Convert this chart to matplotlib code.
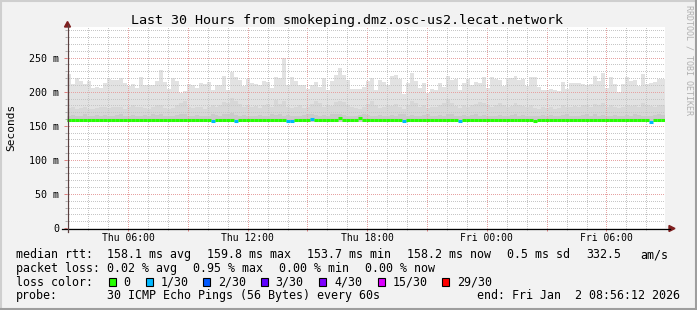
import matplotlib
matplotlib.use("Agg")
import matplotlib.pyplot as plt
from matplotlib.lines import Line2D
from matplotlib.patches import Polygon, Rectangle
from matplotlib.ticker import MultipleLocator, FixedLocator
import numpy as np

W, H = 697, 310
MONO = "DejaVu Sans Mono"

# ---------------- data ----------------
title = "Last 30 Hours from smokeping.dmz.osc-us2.lecat.network"
y_label = "Seconds"
start_hour = 2 + 56.2 / 60      # Thu 02:56:12, in hours after Thu 00:00
span_hours = 30
bin_hours = 0.2                 # 12 minute smoke bins

x_major_hours = [3, 6, 9, 12, 15, 18, 21, 24, 27, 30]
x_tick_labels = {6: "Thu 06:00", 12: "Thu 12:00", 18: "Thu 18:00",
                 24: "Fri 00:00", 30: "Fri 06:00"}
y_tick_values = [0, 50, 100, 150, 200, 250]
y_tick_labels = ["0", "50 m", "100 m", "150 m", "200 m", "250 m"]

# smoke envelope (ms)
smoke_max = [
    225.5, 211.8, 220.6, 216.2, 211.8, 216.2, 205.9, 207.4, 205.9, 213.2,
    219.1, 217.6, 217.6, 220.6, 213.2, 208.8, 211.8, 205.9, 222.1, 210.3,
    210.3, 210.3, 216.2, 232.4, 214.7, 204.4, 220.6, 216.2, 198.5, 201.5,
    211.8, 210.3, 205.9, 213.2, 211.8, 214.7, 202.9,
    210.3, 210.3, 223.5, 202.9, 229.4, 222.1, 217.6, 208.8, 219.1, 213.2,
    211.8, 210.3, 216.2, 214.7, 205.9, 222.1, 220.6, 250.0, 210.3, 222.1,
    216.2, 210.3, 210.3, 204.4, 210.3, 214.7, 207.4, 220.6, 202.9, 216.2,
    225.0, 235.3, 225.0, 217.6, 204.4, 204.4, 204.4,
    207.4, 216.2, 220.6, 202.9, 217.6, 214.7, 210.3, 223.5, 225.0, 219.1,
    197.1, 213.2, 227.9, 216.2, 205.9, 213.2, 198.5, 204.4, 202.9, 213.2,
    207.4, 223.5, 217.6, 219.1, 202.9, 213.2, 219.1, 210.3, 214.7, 213.2,
    222.1, 205.9, 222.1, 219.1, 217.6, 208.8, 220.6, 220.6,
    223.5, 217.6, 219.1, 208.8, 222.1, 222.1, 207.4, 202.9, 202.9, 204.4,
    202.9, 201.5, 214.7, 204.4, 213.2, 213.2, 213.2, 211.8, 210.3, 211.8,
    223.5, 216.2, 227.9, 205.9, 222.1, 211.8, 200.0, 211.8, 222.1, 216.2,
    217.6, 208.8, 226.5, 211.8, 213.2, 214.7, 219.1, 219.1,
]
smoke_mid = [
    176, 177, 175, 176, 178, 174, 175, 176, 178, 178,
    176, 178, 178, 177, 175, 178, 180, 178, 177, 176,
    175, 178, 181, 180, 176, 175, 176, 180, 183, 186,
    178, 176, 177, 178, 175, 177, 180,
    178, 180, 185, 183, 191, 186, 182, 178, 180, 177,
    179, 176, 180, 182, 178, 188, 182, 186, 178, 176,
    178, 180, 176, 178, 182, 187, 183, 178, 180, 179,
    185, 186, 185, 180, 178, 176, 175,
    178, 182, 187, 180, 176, 178, 180, 179, 182, 178,
    174, 180, 186, 183, 178, 180, 176, 178, 177, 180,
    183, 190, 184, 179, 176, 180, 178, 181, 182, 185,
    184, 180, 178, 181, 183, 180, 178, 179,
    183, 181, 179, 178, 180, 176, 175, 177, 176, 178,
    175, 176, 180, 177, 178, 179, 178, 180, 181, 178,
    182, 180, 184, 178, 180, 177, 176, 178, 181, 179,
    180, 178, 183, 180, 179, 178, 180, 181,
]
smoke_inner = [
    165, 166, 164, 165, 167, 164, 165, 166, 165, 166,
    164, 165, 166, 167, 165, 164, 166, 165, 164, 166,
    165, 167, 166, 168, 165, 164, 165, 166, 167, 168,
    165, 164, 166, 165, 164, 165, 167, 166, 165, 168,
    167, 169, 166, 165, 166, 165, 164, 165, 166, 165,
    164, 167, 166, 168, 165, 166, 165, 164, 165, 166,
    167, 168, 166, 165, 166, 165, 167, 168, 167, 166,
    165, 164, 165, 166, 168, 166, 165, 165, 166, 164,
    165, 166, 164, 167, 168, 165, 166, 164, 165, 166,
    167, 165, 164, 166, 165, 168, 167, 165, 164, 166,
    165, 166, 167, 165, 166, 164, 165, 165, 166, 165,
    164, 166, 167, 165, 166, 164, 165, 164, 165, 166,
    165, 166, 164, 165, 166, 167, 165, 164, 165, 166,
    167, 165, 168, 165, 166, 164, 165, 166, 165, 164,
    166, 165, 167, 166, 165, 164, 165, 166, 167, 166,
]
smoke_floor = 155.5

median_rtt = [
    158.0, 158.0, 158.0, 158.0, 158.0, 158.0, 158.0, 158.0, 158.0, 158.0,
    158.0, 158.0, 158.0, 158.0, 158.0, 158.0, 158.0, 158.0, 158.0, 158.0,
    158.0, 158.0, 158.0, 158.0, 158.0, 158.0, 158.0, 158.0, 158.0, 158.0,
    158.0, 158.0, 158.0, 158.0, 158.0, 158.0, 157.5, 158.0, 158.0, 158.0,
    158.0, 158.0, 157.5, 158.0, 158.0, 158.0, 158.0, 158.0, 158.0, 158.0,
    158.0, 158.0, 158.5, 158.5, 158.0, 156.5, 156.5, 158.0, 158.0, 158.0,
    158.0, 160.5, 158.0, 158.0, 158.0, 158.0, 158.0, 158.0, 161.5, 158.0,
    158.0, 158.0, 158.0, 161.0, 158.0, 158.0, 158.0, 158.0, 158.0, 158.0,
    158.0, 158.0, 158.0, 158.0, 157.5, 158.0, 158.0, 158.0, 158.0, 158.0,
    158.0, 158.0, 158.0, 158.0, 158.0, 158.0, 158.0, 158.0, 157.5, 158.0,
    158.0, 158.0, 158.0, 158.0, 158.0, 158.0, 158.0, 158.0, 158.0, 158.0,
    158.0, 158.0, 158.0, 158.0, 158.0, 158.0, 158.0, 157.5, 158.0, 158.0,
    158.0, 158.0, 158.0, 158.0, 158.0, 158.0, 158.0, 158.0, 158.0, 158.0,
    158.0, 158.0, 158.0, 158.0, 158.0, 158.0, 158.0, 158.0, 158.0, 158.0,
    158.0, 158.0, 158.0, 158.0, 158.0, 158.0, 155.0, 158.0, 158.0, 158.0,
]
loss_count = [
    0, 0, 0, 0, 0, 0, 0, 0, 0, 0,
    0, 0, 0, 0, 0, 0, 0, 0, 0, 0,
    0, 0, 0, 0, 0, 0, 0, 0, 0, 0,
    0, 0, 0, 0, 0, 0, 1, 0, 0, 0,
    0, 0, 1, 0, 0, 0, 0, 0, 0, 0,
    0, 0, 0, 0, 0, 1, 1, 0, 0, 0,
    0, 1, 0, 0, 0, 0, 0, 0, 0, 0,
    0, 0, 0, 0, 0, 0, 0, 0, 0, 0,
    0, 0, 0, 0, 1, 0, 0, 0, 0, 0,
    0, 0, 0, 0, 0, 0, 0, 0, 1, 0,
    0, 0, 0, 0, 0, 0, 0, 0, 0, 0,
    0, 0, 0, 0, 0, 0, 0, 0, 0, 0,
    0, 0, 0, 0, 0, 0, 0, 0, 0, 0,
    0, 0, 0, 0, 0, 0, 0, 0, 0, 0,
    0, 0, 0, 0, 0, 0, 1, 0, 0, 0,
]

loss_levels = [0, 1, 2, 3, 4, 15, 29]
loss_labels = ["0", "1/30", "2/30", "3/30", "4/30", "15/30", "29/30"]
loss_colors = ["#26ff00", "#00b8ff", "#0059ff", "#5e00ff", "#7e00ff", "#dd00ff", "#ff0000"]

rtt_stats = ["158.1 ms avg", "159.8 ms max", "153.7 ms min", "158.2 ms now",
             "0.5 ms sd", "332.5", "am/s"]
loss_stats = ["0.02 % avg", "0.95 % max", "0.00 % min", "0.00 % now"]
probe_text = "30 ICMP Echo Pings (56 Bytes) every 60s"
end_text = "end: Fri Jan  2 08:56:12 2026"

# ---------------- layout helpers (pixel coordinates) ----------------
def fx(x):
    return x / W

def fy(y):
    return 1 - y / H

fig = plt.figure(figsize=(W / 100, H / 100), dpi=100, facecolor="#f2f2f2")

PL, PR, PT, PB = 67, 665, 27, 228
ax = fig.add_axes([fx(PL), fy(PB), (PR - PL) / W, (PB - PT) / H])
ax.set_facecolor("white")

edges = start_hour + bin_hours * np.arange(len(smoke_max) + 1)
ax.set_xlim(start_hour, start_hour + span_hours)
ax.set_ylim(0, 295)

# smoke layers
ax.stairs(smoke_max, edges, baseline=smoke_floor, fill=True, color="#e2e2e2", zorder=1)
ax.stairs(smoke_mid, edges, baseline=smoke_floor, fill=True, color="#d7d7d7", zorder=1.1)
ax.stairs(smoke_inner, edges, baseline=smoke_floor, fill=True, color="#cacaca", zorder=1.2)

# median line coloured by loss
color_of = dict(zip(loss_levels, loss_colors))
seg_colors = [color_of[c] for c in loss_count]
ax.hlines(median_rtt, edges[:-1], edges[1:], colors=seg_colors, linewidth=2.2,
          zorder=4, capstyle="butt")

# grid / ticks
ax.xaxis.set_major_locator(FixedLocator(x_major_hours))
ax.xaxis.set_minor_locator(MultipleLocator(1))
ax.set_xticklabels([x_tick_labels.get(h, "") for h in x_major_hours])
ax.set_yticks(y_tick_values, y_tick_labels)
ax.yaxis.set_minor_locator(MultipleLocator(10))
ax.set_axisbelow(False)
ax.grid(which="major", color="#e6a2a2", linestyle=(0.5, (1, 1)), linewidth=0.72)
ax.grid(which="minor", color="#c6c6c6", linestyle=(0.5, (1, 1)), linewidth=0.72)
ax.tick_params(which="major", length=2.2, width=0.72, color="#e08080", direction="out")
ax.tick_params(which="minor", length=1.5, width=0.72, color="#b0b0b0", direction="out")
ax.tick_params(axis="y", which="major", pad=3.4, labelsize=7.2)
ax.tick_params(axis="x", which="major", pad=1.6, labelsize=7.0)
for lab in ax.get_xticklabels() + ax.get_yticklabels():
    lab.set_fontfamily(MONO)
for s in ax.spines.values():
    s.set_visible(False)

# axis lines and arrows
fig.add_artist(Line2D([fx(62), fx(670)], [fy(228.5), fy(228.5)], color="black", lw=0.9))
fig.add_artist(Line2D([fx(67.5), fx(67.5)], [fy(232), fy(25)], color="#5a4040", lw=0.9))
fig.add_artist(Polygon([[fx(669), fy(225.5)], [fx(675), fy(228.5)], [fx(669), fy(231.5)]],
                       closed=True, color="#7f1f1f", transform=fig.transFigure))
fig.add_artist(Polygon([[fx(64.5), fy(27)], [fx(67.5), fy(21.5)], [fx(70.5), fy(27)]],
                       closed=True, color="#7f1f1f", transform=fig.transFigure))

# titles
fig.text(fx(347), fy(24), title, ha="center", va="baseline", fontsize=9.6, family=MONO)
fig.text(fx(11), fy(127.5), y_label, ha="center", va="center", rotation=90,
         fontsize=8.0, family=MONO)
fig.text(fx(688.5), fy(60), "RRDTOOL / TOBI OETIKER", ha="center", va="center",
         rotation=270, fontsize=6.0, family=MONO, color="#b0b0b0")

# legend
LS = 8.4
rows = [258, 271.7, 285.7, 299.3]
fig.text(fx(16), fy(rows[0]), "median rtt:", fontsize=LS, family=MONO, va="baseline")
for x, s in zip([107.3, 207.3, 307.3, 407.3, 507.3, 586.0, 640.7], rtt_stats):
    fig.text(fx(x), fy(rows[0]), s, fontsize=LS, family=MONO, va="baseline")

fig.text(fx(16), fy(rows[1]), "packet loss:", fontsize=LS, family=MONO, va="baseline")
for x, s in zip([107.3, 193.3, 279.3, 365.0], loss_stats):
    fig.text(fx(x), fy(rows[1]), s, fontsize=LS, family=MONO, va="baseline")

fig.text(fx(16), fy(rows[2]), "loss color:", fontsize=LS, family=MONO, va="baseline")
for bx, lab, col in zip([108.7, 145.7, 203.0, 261.0, 319.3, 378.0, 442.3],
                        loss_labels, loss_colors):
    fig.add_artist(Rectangle((fx(bx), fy(rows[2])), 7 / W, 7.5 / H, facecolor=col,
                             edgecolor="black", linewidth=0.8, transform=fig.transFigure))
    fig.text(fx(bx + 14.7), fy(rows[2]), lab, fontsize=LS, family=MONO, va="baseline")

fig.text(fx(16), fy(rows[3]), "probe:", fontsize=LS, family=MONO, va="baseline")
fig.text(fx(107.3), fy(rows[3]), probe_text, fontsize=LS, family=MONO, va="baseline")
fig.text(fx(680), fy(rows[3]), end_text, fontsize=LS, family=MONO, va="baseline", ha="right")

# 3D frame
fig.add_artist(Line2D([0, 1], [fy(0.5), fy(0.5)], color="#cfcfcf", lw=1.5))
fig.add_artist(Line2D([fx(0.5), fx(0.5)], [0, 1], color="#cfcfcf", lw=1.5))
fig.add_artist(Line2D([0, 1], [fy(309), fy(309)], color="#9e9e9e", lw=1.5))
fig.add_artist(Line2D([fx(696), fx(696)], [0, 1], color="#9e9e9e", lw=1.5))

fig.savefig("out.png", dpi=100, facecolor=fig.get_facecolor())
